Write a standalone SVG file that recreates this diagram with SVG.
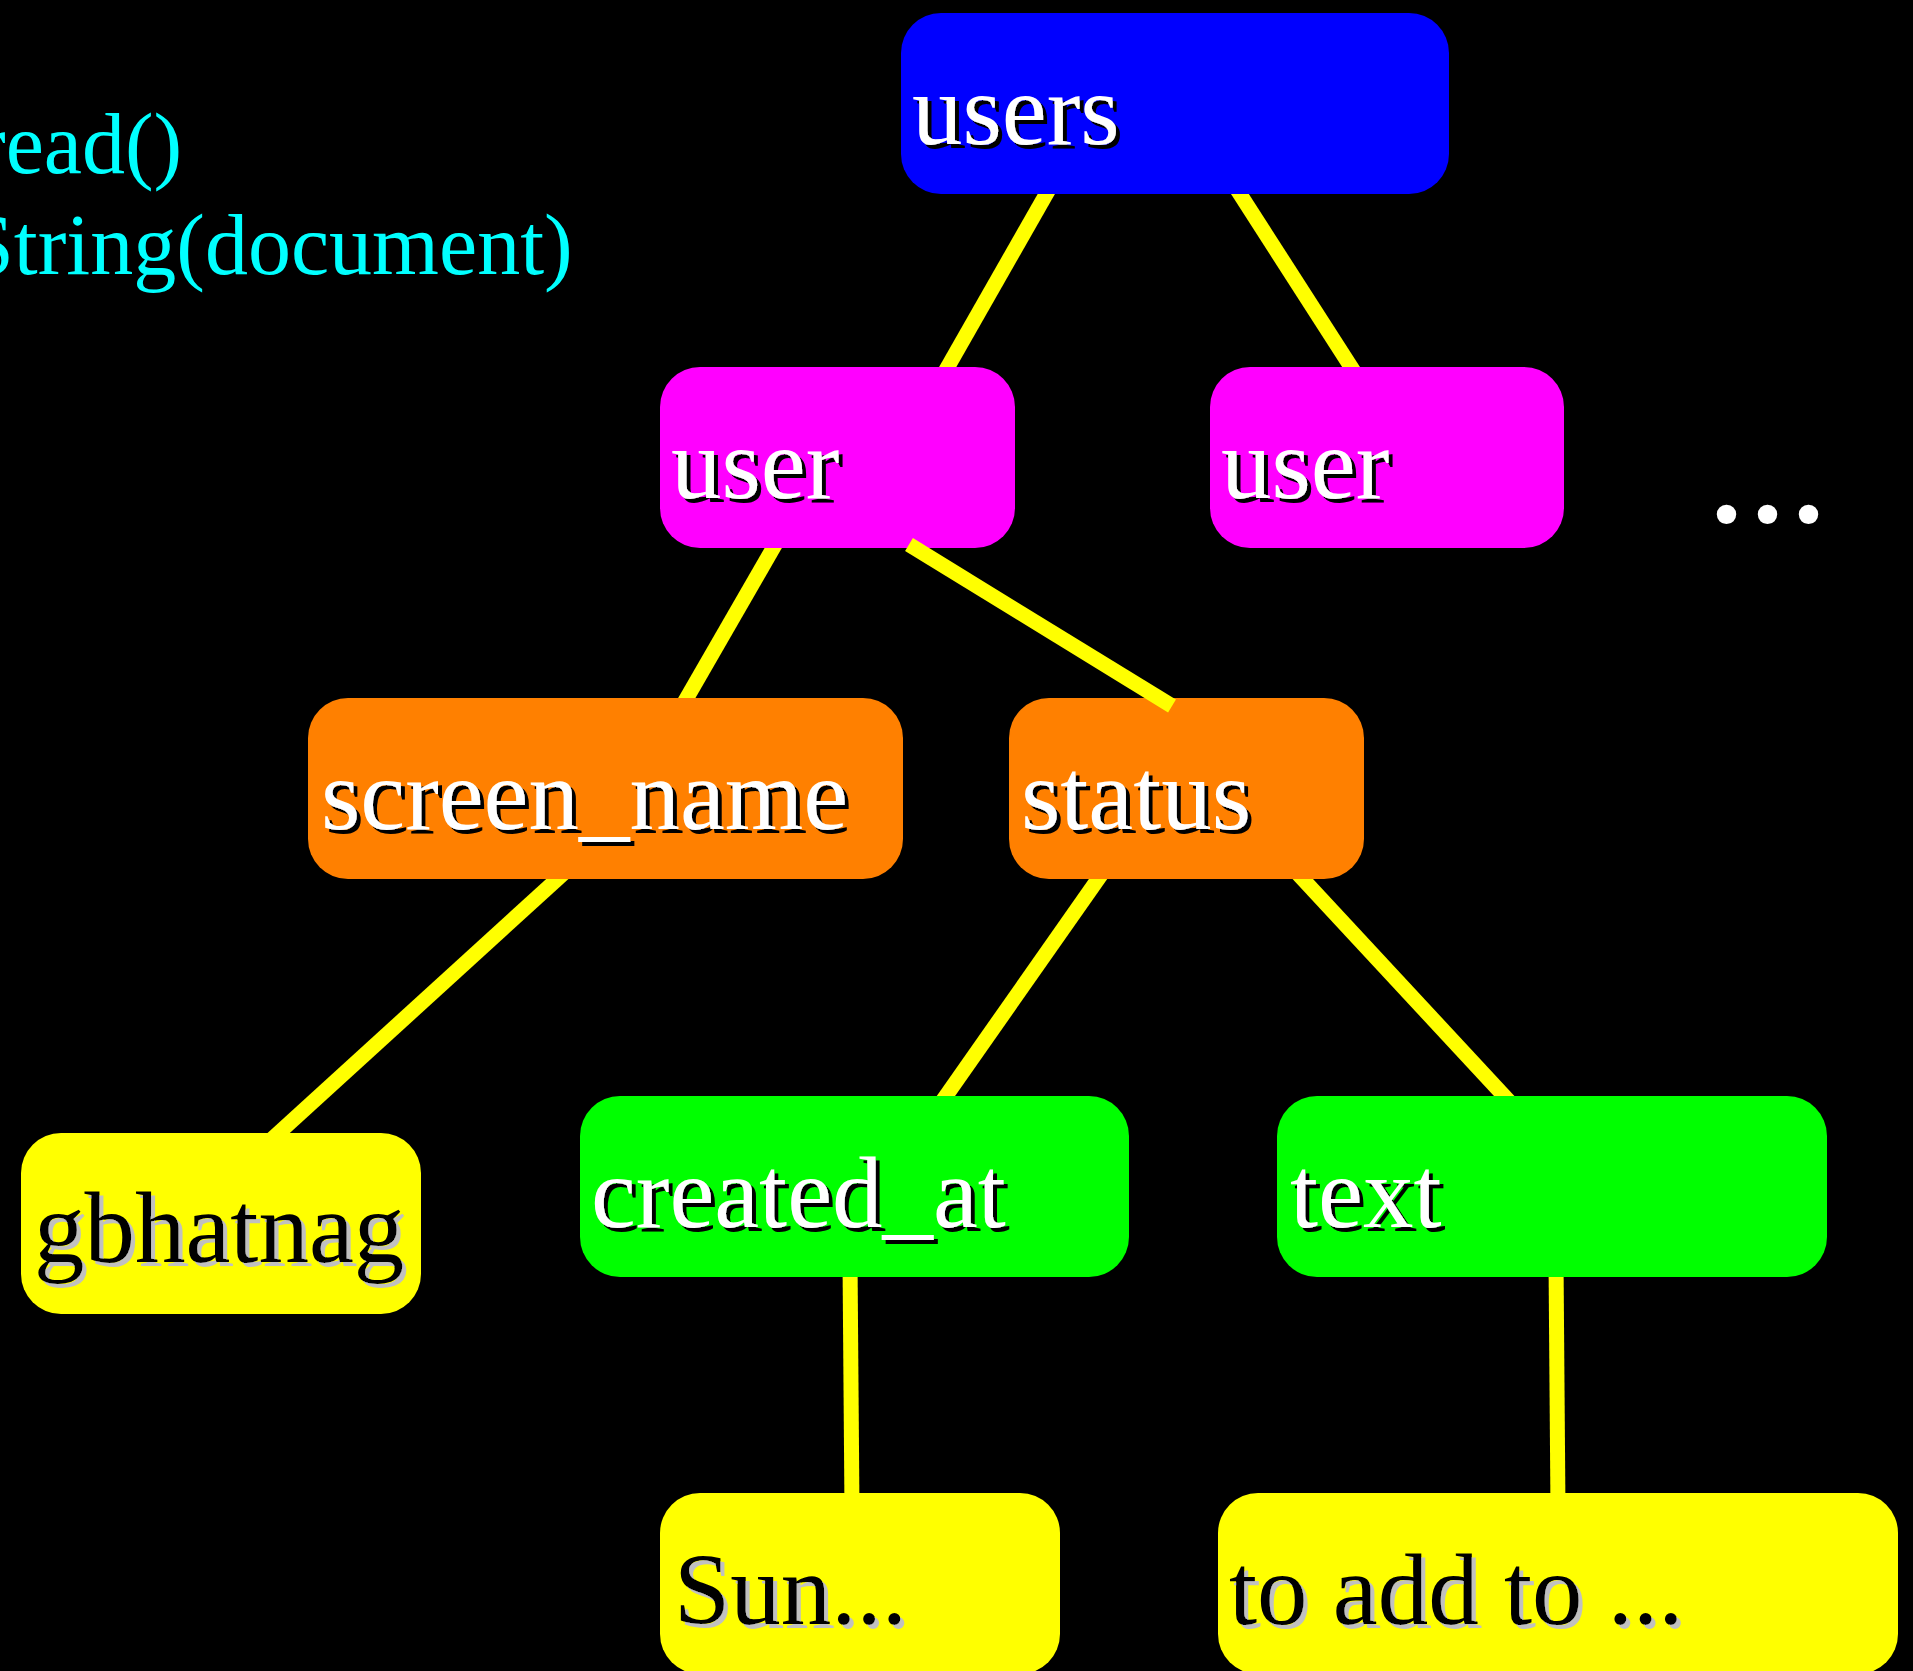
<svg xmlns="http://www.w3.org/2000/svg" width="1913" height="1671" viewBox="0 0 1913 1671">
<defs>
<style>
.lbl{font-family:"Liberation Serif","Times New Roman",serif;font-size:101px}
.w{fill:#ffffff;filter:url(#shB)}
.k{fill:#000000;filter:url(#shG)}
.code{font-family:"Liberation Serif","Times New Roman",serif;font-size:86px;fill:#00ffff}
.conn line{stroke:#ffff00;stroke-width:15;fill:none}
</style>
<filter id="shB" x="-10%" y="-20%" width="130%" height="150%">
<feDropShadow dx="4" dy="4" stdDeviation="0" flood-color="#000000" flood-opacity="1"/>
</filter>
<filter id="shG" x="-10%" y="-20%" width="130%" height="150%">
<feDropShadow dx="4" dy="4" stdDeviation="0" flood-color="#c0c0c0" flood-opacity="1"/>
</filter>
<clipPath id="b1"><rect x="0" y="194" width="1913" height="173"/></clipPath>
<clipPath id="b2"><rect x="0" y="548" width="1913" height="150"/></clipPath>
<clipPath id="b3"><rect x="0" y="879" width="1913" height="217"/></clipPath>
<clipPath id="b3b"><rect x="0" y="879" width="1913" height="254"/></clipPath>
<clipPath id="b4"><rect x="0" y="1277" width="1913" height="216"/></clipPath>
</defs>
<rect x="0" y="0" width="1913" height="1671" fill="#000000"/>

<g id="code-text">
<text class="code" x="-23" y="173">read()</text>
<text class="code" x="-34" y="274">String(document)</text>
</g>

<g id="node-users"><rect x="901" y="13" width="548" height="181" rx="40" fill="#0000ff"/><text class="lbl w" x="912" y="144">users</text></g>
<g id="node-user1"><rect x="660" y="367" width="355" height="181" rx="40" fill="#ff00ff"/><text class="lbl w" x="671" y="498">user</text></g>
<g id="node-user2"><rect x="1210" y="367" width="354" height="181" rx="40" fill="#ff00ff"/><text class="lbl w" x="1221" y="498">user</text></g>
<g id="node-screen_name"><rect x="308" y="698" width="595" height="181" rx="40" fill="#ff8000"/><text class="lbl w" x="321" y="829">screen_name</text></g>
<g id="node-status"><rect x="1009" y="698" width="355" height="181" rx="40" fill="#ff8000"/><text class="lbl w" x="1021" y="829">status</text></g>
<g id="node-created_at"><rect x="580" y="1096" width="549" height="181" rx="40" fill="#00ff00"/><text class="lbl w" x="591" y="1227">created_at</text></g>
<g id="node-text"><rect x="1277" y="1096" width="550" height="181" rx="40" fill="#00ff00"/><text class="lbl w" x="1290" y="1227">text</text></g>
<g id="node-gbhatnag"><rect x="21" y="1133" width="400" height="181" rx="40" fill="#ffff00"/><text class="lbl k" x="34" y="1262">gbhatnag</text></g>
<g id="node-sun"><rect x="660" y="1493" width="400" height="181" rx="40" fill="#ffff00"/><text class="lbl k" x="674" y="1624">Sun...</text></g>
<g id="node-toadd"><rect x="1218" y="1493" width="680" height="181" rx="40" fill="#ffff00"/><text class="lbl k" x="1229" y="1624">to add to ...</text></g>
<g id="node-ellipsis"><text x="1706" y="522" font-family="Liberation Serif, serif" font-size="164" fill="#ffffff">...</text></g>

<g id="connectors" class="conn">
<line x1="1056" y1="177" x2="938" y2="384" clip-path="url(#b1)"/>
<line x1="1229" y1="177" x2="1362" y2="384" clip-path="url(#b1)"/>
<line x1="783" y1="531" x2="677" y2="715" clip-path="url(#b2)"/>
<line x1="909" y1="544.5" x2="1172" y2="706"/>
<line x1="576" y1="862" x2="260" y2="1150" clip-path="url(#b3b)"/>
<line x1="1110" y1="862" x2="934" y2="1113" clip-path="url(#b3)"/>
<line x1="1287" y1="862" x2="1520" y2="1113" clip-path="url(#b3)"/>
<line x1="850" y1="1260" x2="852" y2="1510" clip-path="url(#b4)"/>
<line x1="1556" y1="1260" x2="1558" y2="1510" clip-path="url(#b4)"/>
</g>
</svg>
